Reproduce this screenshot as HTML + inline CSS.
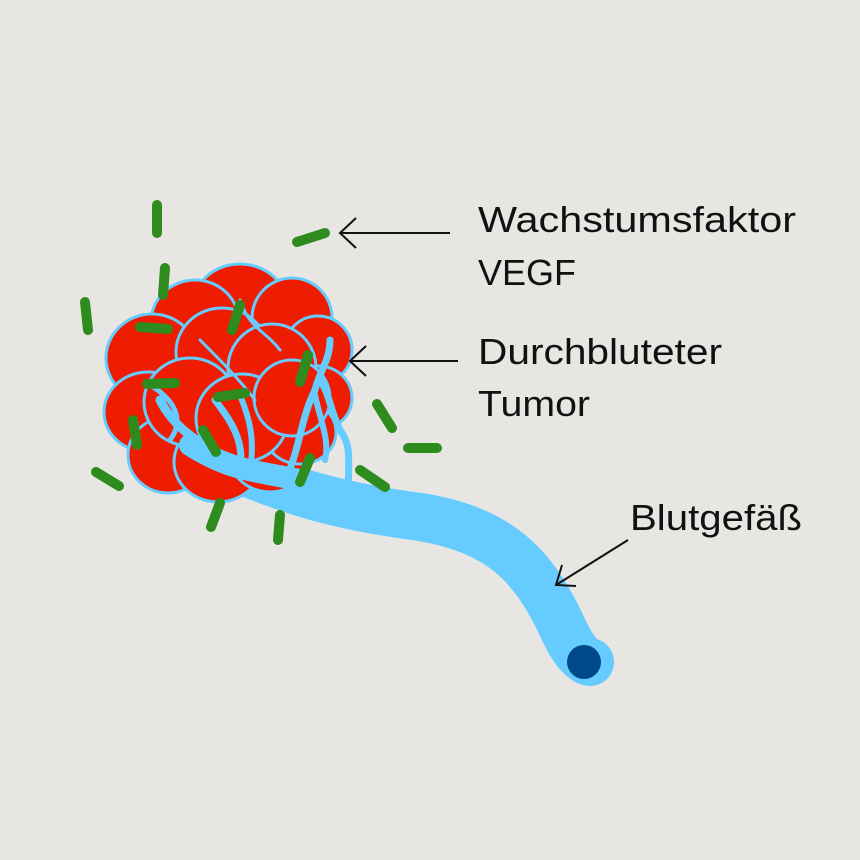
<!DOCTYPE html>
<html><head><meta charset="utf-8"><style>
html,body{margin:0;padding:0;background:#e8e6e2;}
svg{display:block}
text{font-family:"Liberation Sans",sans-serif;font-size:36px;fill:#111;}
</style></head><body>
<svg width="860" height="860" viewBox="0 0 860 860">
<rect width="860" height="860" fill="#e8e6e2"/>
<!-- vessel -->
<path d="M235,468 C290,490 330,505 420,517 C500,530 532,565 560,622 C570,645 580,660 590,662" fill="none" stroke="#66ccff" stroke-width="48" stroke-linecap="round"/>
<circle cx="584" cy="662" r="17" fill="#004a8a"/>
<!-- tumor -->
<g fill="#ee1c00" stroke="#66ccff" stroke-width="3">
<ellipse cx="240" cy="308" rx="48" ry="44"/>
<ellipse cx="195" cy="322" rx="44" ry="42"/>
<ellipse cx="292" cy="318" rx="40" ry="40"/>
<ellipse cx="318" cy="350" rx="34" ry="34"/>
<ellipse cx="152" cy="358" rx="46" ry="44"/>
<ellipse cx="148" cy="412" rx="44" ry="40"/>
<ellipse cx="318" cy="398" rx="34" ry="32"/>
<ellipse cx="168" cy="455" rx="40" ry="38"/>
<ellipse cx="218" cy="462" rx="44" ry="40"/>
<ellipse cx="270" cy="452" rx="42" ry="40"/>
<ellipse cx="300" cy="432" rx="36" ry="32"/>
<ellipse cx="222" cy="352" rx="46" ry="44"/>
<ellipse cx="272" cy="368" rx="44" ry="44"/>
<ellipse cx="190" cy="402" rx="46" ry="44"/>
<ellipse cx="242" cy="418" rx="46" ry="44"/>
<ellipse cx="292" cy="398" rx="38" ry="38"/>
</g>
<!-- small vessels inside -->
<g fill="none" stroke="#66ccff" stroke-linecap="round">
<path d="M190,445 C230,470 250,470 300,480" stroke-width="22"/>
<path d="M240,470 C220,450 180,440 160,400" stroke-width="9"/>
<path d="M240,470 C245,440 230,420 215,400" stroke-width="7"/>
<path d="M250,470 C255,440 250,420 240,395" stroke-width="6"/>
<path d="M285,480 C300,450 300,420 315,390 C320,370 330,360 330,340" stroke-width="7"/>
<path d="M325,460 C330,440 320,420 315,395" stroke-width="6"/>
<path d="M350,500 C345,470 355,450 340,430 C330,410 330,395 320,380" stroke-width="7"/>
<path d="M170,440 C185,420 175,400 150,385" stroke-width="5"/>
<path d="M240,300 C250,330 265,330 280,350" stroke-width="3"/>
<path d="M200,340 C220,360 240,380 255,400" stroke-width="3"/>
</g>
<!-- VEGF -->
<g stroke="#2e8b1e" stroke-width="10" stroke-linecap="round">
<line x1="157" y1="205" x2="157" y2="233"/>
<line x1="297" y1="242" x2="325" y2="233"/>
<line x1="165" y1="268" x2="163" y2="295"/>
<line x1="85" y1="302" x2="88" y2="330"/>
<line x1="140" y1="327" x2="168" y2="329"/>
<line x1="240" y1="305" x2="232" y2="330"/>
<line x1="147" y1="384" x2="175" y2="383"/>
<line x1="308" y1="355" x2="300" y2="382"/>
<line x1="218" y1="397" x2="245" y2="393"/>
<line x1="133" y1="420" x2="137" y2="445"/>
<line x1="203" y1="430" x2="216" y2="452"/>
<line x1="377" y1="404" x2="392" y2="428"/>
<line x1="408" y1="448" x2="437" y2="448"/>
<line x1="96" y1="472" x2="119" y2="486"/>
<line x1="310" y1="458" x2="300" y2="482"/>
<line x1="360" y1="470" x2="385" y2="487"/>
<line x1="220" y1="503" x2="211" y2="527"/>
<line x1="280" y1="515" x2="278" y2="540"/>
</g>
<!-- arrows -->
<g stroke="#111" stroke-width="2" fill="none">
<path d="M450,233 H340 M356,218 L340,233 L356,248"/>
<path d="M458,361 H350 M366,346 L350,361 L366,376"/>
<path d="M628,540 L556,585 M562,565 L556,585 L576,586"/>
</g>
<text x="478" y="232" textLength="318" lengthAdjust="spacingAndGlyphs">Wachstumsfaktor</text>
<text x="478" y="285" textLength="98" lengthAdjust="spacingAndGlyphs">VEGF</text>
<text x="478" y="364" textLength="244" lengthAdjust="spacingAndGlyphs">Durchbluteter</text>
<text x="478" y="416" textLength="112" lengthAdjust="spacingAndGlyphs">Tumor</text>
<text x="630" y="530" textLength="172" lengthAdjust="spacingAndGlyphs">Blutgefäß</text>
</svg>
</body></html>
